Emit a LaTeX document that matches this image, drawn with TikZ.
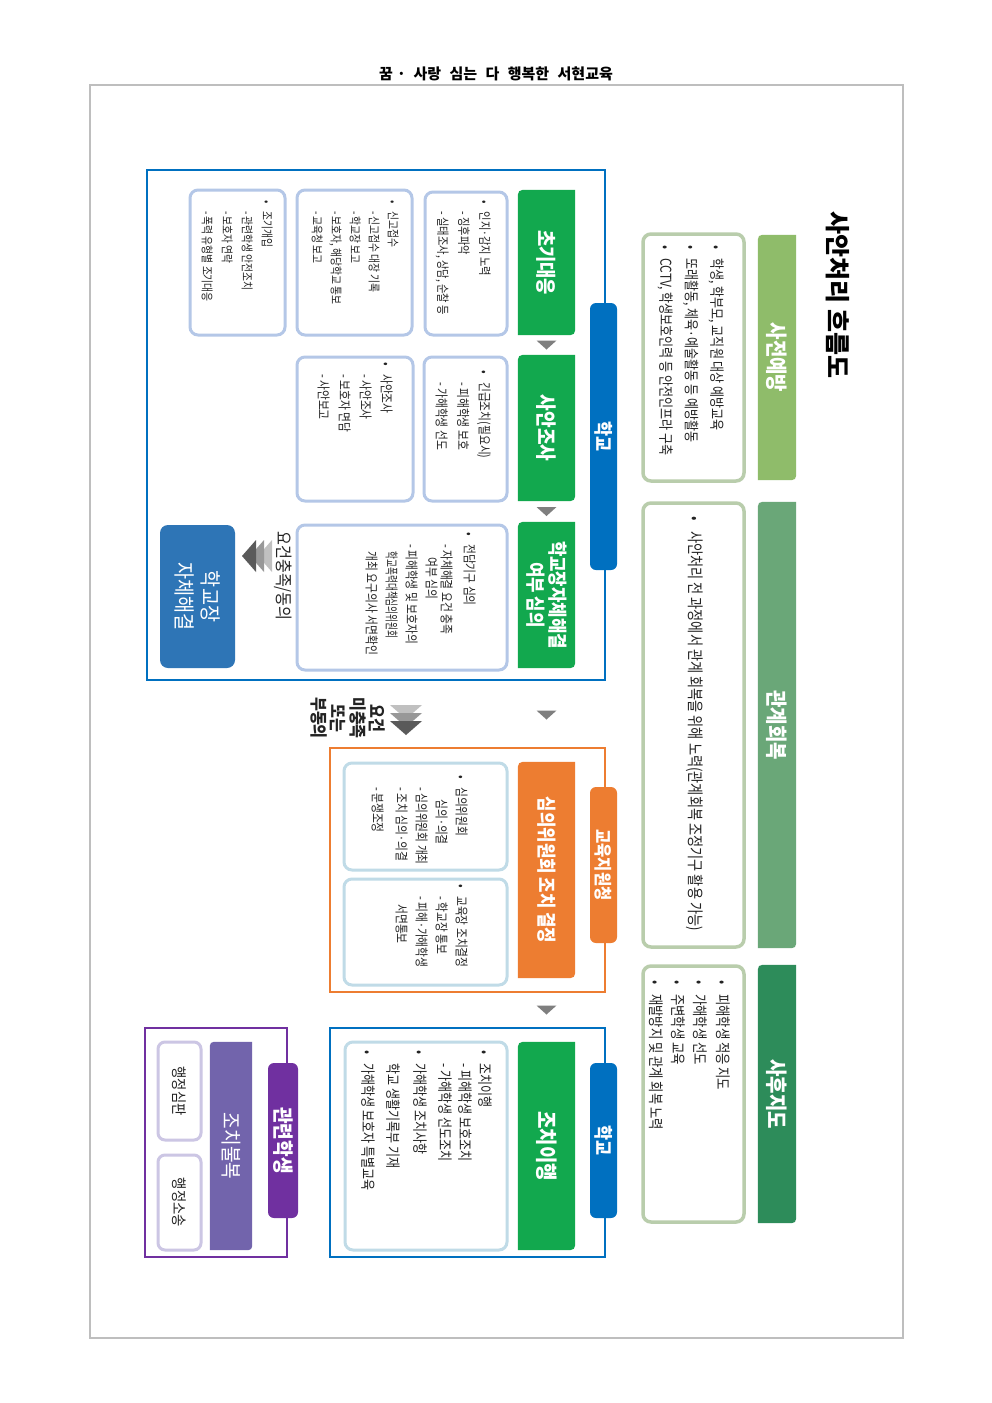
\documentclass[tikz,border=0pt]{standalone}
\usepackage{fontspec}
\usepackage{graphicx}
\setmainfont{Noto Sans CJK KR}
\newfontfamily\cnd{Noto Sans CJK KR}[FakeStretch=0.8]
\newfontfamily\cndb{Noto Sans CJK KR}[FakeStretch=0.86]
\usetikzlibrary{fit,calc}
\definecolor{schoolblue}{RGB}{0,112,192}
\definecolor{lightbluebox}{RGB}{180,199,231}
\definecolor{stepgreen}{RGB}{18,168,78}
\definecolor{orgcol}{RGB}{237,125,49}
\definecolor{cyanbox}{RGB}{192,219,231}
\definecolor{purplecol}{RGB}{112,48,160}
\definecolor{purplebar}{RGB}{114,100,172}
\definecolor{lavbox}{RGB}{204,198,228}
\definecolor{prevgreen}{RGB}{143,188,106}
\definecolor{relgreen}{RGB}{106,167,120}
\definecolor{postgreen}{RGB}{45,140,90}
\definecolor{sage}{RGB}{185,205,172}
\definecolor{deepblue}{RGB}{46,117,182}
\definecolor{pagegray}{RGB}{190,190,190}
\definecolor{arrowgray}{RGB}{127,127,127}
\definecolor{chevlight}{RGB}{192,192,192}
\definecolor{chevmid}{RGB}{152,152,152}
\definecolor{chevdark}{RGB}{90,90,90}
\definecolor{txtcol}{RGB}{35,35,35}
\newcommand\myfs[2]{\fontsize{#1}{#2}\selectfont}
\newcommand\mybul{\makebox[0.9em][l]{•}}
\newcommand\mydash{\hspace*{0.9em}-~}
\newcommand\mytabbar[3]{%
  \fill[#2] (#1.north east) -- ($(#1.north west)+(#3,0)$) .. controls (#1.north west) .. ($(#1.north west)+(0,#3)$)
    -- (#1.south west) -- ($(#1.south east)+(-#3,0)$) .. controls (#1.south east) .. ($(#1.south east)+(0,-#3)$) -- cycle;}
\newcommand\mydowntri[2]{%
  \path ($(#1.south)!0.5!(#2.north)$) coordinate (tmpmid);
  \fill[arrowgray] ($(tmpmid)+(-10,-4.5)$) -- ($(tmpmid)+(10,-4.5)$) -- ($(tmpmid)+(0,4.5)$) -- cycle;}
\tikzset{
  frame/.style={inner sep=0, draw, line width=2.5pt},
  tabbox/.style={inner sep=0, rounded corners=6pt},
  barbox/.style={inner sep=0},
  inbox/.style={inner sep=0, draw, line width=3pt, rounded corners=8pt, fill=white},
  txt/.style={rotate=-90, inner sep=0, anchor=north west, align=left, text=txtcol},
  wtxt/.style={rotate=-90, inner sep=0, align=center, text=white},
}
\begin{document}
\begin{tikzpicture}[x=1pt,y=-1pt]
\useasboundingbox (0,0) rectangle (992,1403);
\fill[white] (0,0) rectangle (992,1403);
% page
\node[fit={(90,85) (903,1338)}, frame, draw=pagegray, line width=1.5pt] (page) {};
\node[font=\bfseries\myfs{15}{17}, text=black] (hdr) at (496,74) {꿈\hspace{4pt}·\hspace{4pt} 사랑\hspace{5pt} 심는\hspace{5pt} 다\hspace{5pt} 행복한\hspace{5pt} 서현교육};
\node[rotate=-90, font=\bfseries\myfs{25}{30}, text=black] (title) at (838,295) {사안처리 흐름도};

% right column
\node[fit={(758,235) (796,480)}, barbox] (h1) {};
\mytabbar{h1}{prevgreen}{10}
\node[wtxt, font=\cndb\bfseries\myfs{22}{24}] (h1t) at (h1.center) {사전예방};
\node[fit={(643,234) (744,481)}, inbox, draw=sage, line width=3.5pt] (g1) {};
\node[txt, font=\cnd\myfs{15}{25.5}] (g1t) at (724,245) {\mybul 학생, 학부모, 교직원 대상 예방교육\\\mybul 또래활동, 체육·예술활동 등 예방활동\\\mybul CCTV, 학생보호인력 등 안전인프라 구축};

\node[fit={(758,502) (796,948)}, barbox] (h2) {};
\mytabbar{h2}{relgreen}{10}
\node[wtxt, font=\cndb\bfseries\myfs{22}{24}] (h2t) at (h2.center) {관계회복};
\node[fit={(643,503) (744,947)}, inbox, draw=sage, line width=3.5pt] (g2) {};
\node[txt, font=\cnd\myfs{16.5}{20}] (g2t) at (703,516) {\mybul 사안처리 전 과정에서 관계 회복을 위해 노력(관계회복 조정기구 활용 가능)};

\node[fit={(758,965) (796,1223)}, barbox] (h3) {};
\mytabbar{h3}{postgreen}{10}
\node[wtxt, font=\cndb\bfseries\myfs{22}{24}] (h3t) at (h3.center) {사후지도};
\node[fit={(643,966) (744,1222)}, inbox, draw=sage, line width=3.5pt] (g3) {};
\node[txt, font=\cnd\myfs{15.4}{22.3}] (g3t) at (730,980) {\mybul 피해학생 적응 지도\\\mybul 가해학생 선도\\\mybul 주변학생 교육\\\mybul 재발방지 및 관계 회복 노력};

% school frame 1
\node[fit={(147,170) (605,680)}, frame, draw=schoolblue] (f1) {};
\node[fit={(590,303) (617,570)}, tabbox, fill=schoolblue] (t1) {};
\node[wtxt, font=\cndb\bfseries\myfs{19}{20}] (t1t) at (t1.center) {학교};

\node[fit={(518,190) (575,335)}, barbox] (s1) {};
\mytabbar{s1}{stepgreen}{11}
\node[wtxt, font=\cndb\bfseries\myfs{20.5}{22}] (s1t) at (s1.center) {초기대응};
\node[fit={(518,355) (575,501)}, barbox] (s2) {};
\mytabbar{s2}{stepgreen}{11}
\node[wtxt, font=\cndb\bfseries\myfs{21}{22}] (s2t) at (s2.center) {사안조사};
\node[fit={(518,522) (575,668)}, barbox] (s3) {};
\mytabbar{s3}{stepgreen}{11}
\node[wtxt, font=\cndb\bfseries\myfs{19.5}{22}] (s3t) at (s3.center) {학교장자체해결\\여부 심의};

\node[fit={(425,192) (507,335)}, inbox, draw=lightbluebox] (b11) {};
\node[txt, font=\cnd\myfs{12.8}{21}] (b11t) at (491,200) {\mybul 인지·감지 노력\\\mydash 징후파악\\\mydash 실태조사, 상담, 순찰 등};
\node[fit={(297,190) (412,335)}, inbox, draw=lightbluebox] (b12) {};
\node[txt, font=\cnd\myfs{12.2}{19}] (b12t) at (399,200) {\mybul 신고접수\\\mydash 신고접수 대장 기록\\\mydash 학교장 보고\\\mydash 보호자, 해당학교 통보\\\mydash 교육청 보고};
\node[fit={(190,190) (285,335)}, inbox, draw=lightbluebox] (b13) {};
\node[txt, font=\cnd\myfs{12.2}{20}] (b13t) at (273,200) {\mybul 조기개입\\\mydash 관련학생 안전조치\\\mydash 보호자 연락\\\mydash 폭력 유형별 조기대응};

\node[fit={(424,357) (507,501)}, inbox, draw=lightbluebox] (b21) {};
\node[txt, font=\cnd\myfs{13.4}{21.5}] (b21t) at (491,370) {\mybul 긴급조치(필요시)\\\mydash 피해학생 보호\\\mydash 가해학생 선도};
\node[fit={(297,357) (413,501)}, inbox, draw=lightbluebox] (b22) {};
\node[txt, font=\cnd\myfs{13.4}{21}] (b22t) at (393,362) {\mybul 사안조사\\\mydash 사안조사\\\mydash 보호자 면담\\\mydash 사안보고};

\node[fit={(297,525) (507,670)}, inbox, draw=lightbluebox] (b31) {};
\node[txt, font=\cnd\myfs{13.4}{20}] (b31t) at (476,532) {\mybul 전담기구 심의\\[3pt]\mydash 자체해결 요건 충족\\[-5pt]\hspace*{1.9em}여부 심의\\\mydash 피해학생 및 보호자의\\\hspace*{1.45em}\scalebox{0.8}[1]{학교폭력대책심의위원회}\\\hspace*{1.45em}개최 요구의사 서면확인};

\node[rotate=-90, font=\cndb\myfs{17.5}{20}, text=txtcol] (reqt) at (283,576) {요건충족/동의};
\foreach \k/\c in {2/chevlight,1/chevmid,0/chevdark}
  \fill[\c] (242+8*\k,556) -- (256+8*\k,540) -- (256+8*\k,572) -- cycle;
\node[fit={(160,525) (235,668)}, inner sep=0, fill=deepblue, rounded corners=8pt] (sb) {};
\node[wtxt, font=\cndb\myfs{21.5}{26}] (sbt) at (sb.center) {학교장\\자체해결};

% between
\foreach \k/\c in {0/chevlight,1/chevmid,2/chevdark}
  \fill[\c] (390,705+8*\k) -- (422,705+8*\k) -- (406,719+8*\k) -- cycle;
\node[rotate=-90, align=center, font=\cndb\bfseries\myfs{17.5}{19.5}, text=txtcol] (nreq) at (348,718) {요건\\미충족\\또는\\부동의};

% education office frame
\node[fit={(330,748) (605,992)}, frame, draw=orgcol] (f2) {};
\node[fit={(590,787) (617,943)}, tabbox, fill=orgcol] (t2) {};
\node[wtxt, font=\cndb\bfseries\myfs{18}{20}] (t2t) at (t2.center) {교육지원청};
\node[fit={(518,762) (575,978)}, barbox] (s4) {};
\mytabbar{s4}{orgcol}{11}
\node[wtxt, font=\cndb\bfseries\myfs{19.5}{22}] (s4t) at (s4.center) {심의위원회 조치 결정};
\node[fit={(344,763) (507,870)}, inbox, draw=cyanbox] (b41) {};
\node[txt, font=\cnd\myfs{13.4}{20}] (b41t) at (468,775) {\mybul 심의위원회\\\hspace*{1.8em}심의·의결\\\mydash 심의위원회 개최\\\mydash 조치 심의·의결\\[4pt]\mydash 분쟁조정};
\node[fit={(344,879) (507,985)}, inbox, draw=cyanbox] (b42) {};
\node[txt, font=\cnd\myfs{13.4}{20}] (b42t) at (468,884) {\mybul 교육장 조치결정\\\mydash 학교장 통보\\\mydash 피해·가해학생\\\hspace*{1.5em}서면통보};

% school frame 2
\node[fit={(330,1028) (605,1257)}, frame, draw=schoolblue] (f3) {};
\node[fit={(590,1063) (617,1218)}, tabbox, fill=schoolblue] (t3) {};
\node[wtxt, font=\cndb\bfseries\myfs{19}{20}] (t3t) at (t3.center) {학교};
\node[fit={(518,1042) (575,1250)}, barbox] (s5) {};
\mytabbar{s5}{stepgreen}{11}
\node[wtxt, font=\cndb\bfseries\myfs{22}{24}] (s5t) at (s5.center) {조치이행};
\node[fit={(345,1042) (507,1250)}, inbox, draw=cyanbox] (b5) {};
\node[txt, font=\cnd\myfs{15}{20}] (b5t) at (492,1050) {\mybul 조치이행\\\mydash 피해학생 보호조치\\\mydash 가해학생 선도조치\\[5pt]\mybul 가해학생 조치사항\\[7pt]\hspace*{0.9em}학교 생활기록부 기재\\[5pt]\mybul 가해학생 보호자 특별교육};

% related students frame
\node[fit={(145,1028) (287,1257)}, frame, draw=purplecol] (f4) {};
\node[fit={(268,1063) (298,1218)}, tabbox, fill=purplecol] (t4) {};
\node[wtxt, font=\cndb\bfseries\myfs{21}{22}] (t4t) at (t4.center) {관련학생};
\node[fit={(210,1042) (252,1250)}, barbox] (s6) {};
\mytabbar{s6}{purplebar}{9}
\node[wtxt, font=\cndb\myfs{21}{22}] (s6t) at (s6.center) {조치불복};
\node[fit={(158,1042) (201,1140)}, inbox, draw=lavbox, rounded corners=7pt] (b61) {};
\node[rotate=-90, font=\cndb\myfs{15.5}{17}, text=txtcol] (b61t) at (b61.center) {행정심판};
\node[fit={(158,1155) (201,1250)}, inbox, draw=lavbox, rounded corners=7pt] (b62) {};
\node[rotate=-90, font=\cndb\myfs{15.5}{17}, text=txtcol] (b62t) at (b62.center) {행정소송};

% flow arrows
\mydowntri{s1}{s2}
\mydowntri{s2}{s3}
\mydowntri{s3}{s4}
\mydowntri{s4}{s5}
\end{tikzpicture}
\end{document}
